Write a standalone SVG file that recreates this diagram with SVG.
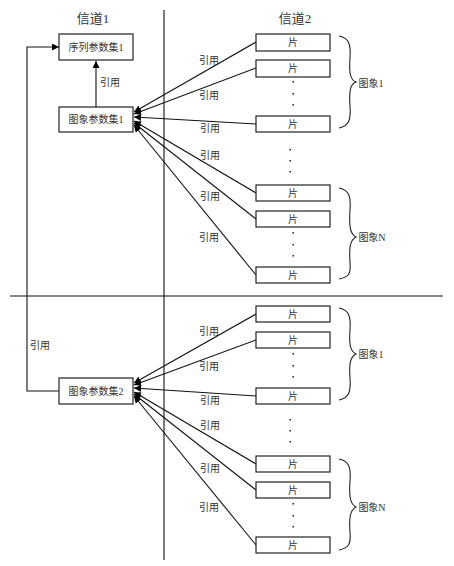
<svg xmlns="http://www.w3.org/2000/svg" width="454" height="566" viewBox="0 0 454 566">
<defs>
<marker id="ah" viewBox="0 0 10 10" refX="10" refY="5" markerWidth="7" markerHeight="7" markerUnits="userSpaceOnUse" orient="auto">
<path d="M0,0 L10,5 L0,10 z" fill="#000"/>
</marker>
</defs>
<style>
.box{fill:#fff;stroke:#222;stroke-width:1.2}
.t{font-family:"Liberation Serif","Noto Sans CJK SC",serif;fill:#333;text-anchor:middle;dominant-baseline:central}
.s{font-size:10px}
.h{font-size:13px}
.ln{stroke:#111;stroke-width:1.1;fill:none}
.ar{stroke:#111;stroke-width:1.1;fill:none;marker-end:url(#ah)}
.br{stroke:#222;stroke-width:1.1;fill:none}
.dot{fill:#222}
</style>
<rect width="454" height="566" fill="#fff"/>
<g id="dividers">
<line class="ln" x1="164" y1="10" x2="164" y2="560"/>
<line class="ln" x1="10" y1="296" x2="443" y2="296"/>
</g>
<g id="headers">
<text class="t h" x="93" y="18">信道1</text>
<text class="t h" x="295" y="18">信道2</text>
</g>
<g id="connectors">
<polyline class="ar" points="59,391 27,391 27,47 59,47"/>
<line class="ar" x1="96" y1="107" x2="96" y2="61"/>
<line class="ar" x1="256" y1="42" x2="134" y2="112"/>
<line class="ar" x1="256" y1="68" x2="134" y2="114"/>
<line class="ar" x1="256" y1="124" x2="134" y2="117"/>
<line class="ar" x1="256" y1="193" x2="134" y2="121"/>
<line class="ar" x1="256" y1="219" x2="134" y2="123"/>
<line class="ar" x1="256" y1="275" x2="134" y2="125"/>
<line class="ar" x1="256" y1="314" x2="134" y2="383"/>
<line class="ar" x1="256" y1="340" x2="134" y2="385"/>
<line class="ar" x1="256" y1="396" x2="134" y2="388"/>
<line class="ar" x1="256" y1="464" x2="134" y2="392"/>
<line class="ar" x1="256" y1="490" x2="134" y2="394"/>
<line class="ar" x1="256" y1="545" x2="134" y2="396"/>
</g>
<g id="labels">
<text class="t s" x="110" y="82">引用</text>
<text class="t s" x="40" y="345">引用</text>
<text class="t s" x="209" y="60">引用</text>
<text class="t s" x="209" y="95">引用</text>
<text class="t s" x="210" y="128">引用</text>
<text class="t s" x="210" y="155">引用</text>
<text class="t s" x="210" y="196">引用</text>
<text class="t s" x="209" y="237">引用</text>
<text class="t s" x="209" y="331">引用</text>
<text class="t s" x="209" y="366">引用</text>
<text class="t s" x="210" y="400">引用</text>
<text class="t s" x="210" y="425">引用</text>
<text class="t s" x="210" y="468">引用</text>
<text class="t s" x="209" y="507">引用</text>
</g>
<g id="sps1"><rect class="box" x="59" y="34" width="74" height="26"/><text class="t s" x="96" y="47">序列参数集1</text></g>
<g id="pps1"><rect class="box" x="59" y="107" width="74" height="25"/><text class="t s" x="96" y="119.5">图象参数集1</text></g>
<g id="pps2"><rect class="box" x="59" y="378" width="74" height="26"/><text class="t s" x="96" y="391">图象参数集2</text></g>
<g id="slice1"><rect class="box" x="256" y="34" width="74" height="17"/><text class="t s" x="293" y="42.5">片</text></g>
<g id="slice2"><rect class="box" x="256" y="60" width="74" height="17"/><text class="t s" x="293" y="68.5">片</text></g>
<g id="slice3"><rect class="box" x="256" y="116" width="74" height="16"/><text class="t s" x="293" y="124">片</text></g>
<g id="slice4"><rect class="box" x="256" y="185" width="74" height="16"/><text class="t s" x="293" y="193">片</text></g>
<g id="slice5"><rect class="box" x="256" y="211" width="74" height="16"/><text class="t s" x="293" y="219">片</text></g>
<g id="slice6"><rect class="box" x="256" y="267" width="74" height="16"/><text class="t s" x="293" y="275">片</text></g>
<g id="slice7"><rect class="box" x="256" y="306" width="74" height="16"/><text class="t s" x="293" y="314">片</text></g>
<g id="slice8"><rect class="box" x="256" y="332" width="74" height="16"/><text class="t s" x="293" y="340">片</text></g>
<g id="slice9"><rect class="box" x="256" y="388" width="74" height="16"/><text class="t s" x="293" y="396">片</text></g>
<g id="slice10"><rect class="box" x="256" y="456" width="74" height="16"/><text class="t s" x="293" y="464">片</text></g>
<g id="slice11"><rect class="box" x="256" y="482" width="74" height="16"/><text class="t s" x="293" y="490">片</text></g>
<g id="slice12"><rect class="box" x="256" y="537" width="74" height="16"/><text class="t s" x="293" y="545">片</text></g>
<g id="dots">
<rect class="dot" x="292.5" y="81" width="1.5" height="1.5"/><rect class="dot" x="292.5" y="93" width="1.5" height="1.5"/><rect class="dot" x="292.5" y="104" width="1.5" height="1.5"/>
<rect class="dot" x="289.5" y="149" width="1.5" height="1.5"/><rect class="dot" x="289.5" y="160" width="1.5" height="1.5"/><rect class="dot" x="289.5" y="171" width="1.5" height="1.5"/>
<rect class="dot" x="292.5" y="232" width="1.5" height="1.5"/><rect class="dot" x="292.5" y="244" width="1.5" height="1.5"/><rect class="dot" x="292.5" y="255" width="1.5" height="1.5"/>
<rect class="dot" x="292.5" y="353" width="1.5" height="1.5"/><rect class="dot" x="292.5" y="365" width="1.5" height="1.5"/><rect class="dot" x="292.5" y="376" width="1.5" height="1.5"/>
<rect class="dot" x="289.5" y="419" width="1.5" height="1.5"/><rect class="dot" x="289.5" y="430" width="1.5" height="1.5"/><rect class="dot" x="289.5" y="441" width="1.5" height="1.5"/>
<rect class="dot" x="292.5" y="503" width="1.5" height="1.5"/><rect class="dot" x="292.5" y="515" width="1.5" height="1.5"/><rect class="dot" x="292.5" y="526" width="1.5" height="1.5"/>
</g>
<g id="brace1">
<path class="br" d="M339,36 C349,38 351,44 350,58 C349,72 350,80 356,82 C350,84 349,92 350,106 C351,120 349,126 339,128"/>
<text class="t s" x="371" y="83">图象1</text>
</g>
<g id="braceN">
<path class="br" d="M339,188 C349,190 351,196 350,210 C349,226 350,234 356,237 C350,240 349,248 350,262 C351,274 349,277 339,279"/>
<text class="t s" x="372" y="237">图象N</text>
</g>
<g id="brace1b">
<path class="br" d="M339,308 C349,310 351,316 350,330 C349,344 350,351 356,354 C350,357 349,364 350,378 C351,392 349,398 339,400"/>
<text class="t s" x="371" y="354">图象1</text>
</g>
<g id="braceNb">
<path class="br" d="M339,459 C349,461 351,467 350,481 C349,496 350,504 356,507 C350,510 349,518 350,532 C351,544 349,548 339,550"/>
<text class="t s" x="372" y="507">图象N</text>
</g>
</svg>
